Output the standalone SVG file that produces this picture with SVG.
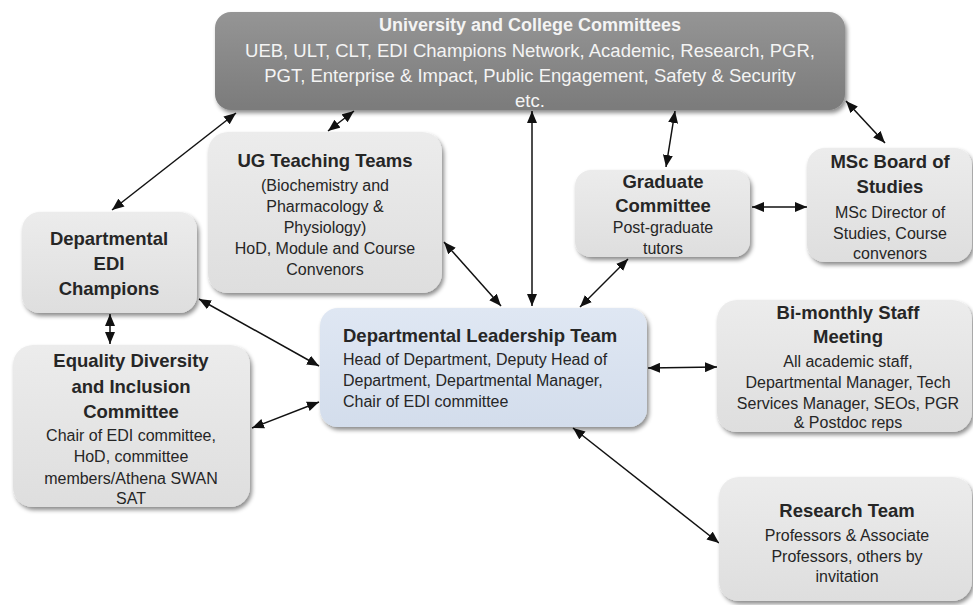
<svg xmlns="http://www.w3.org/2000/svg" width="973" height="605" viewBox="0 0 973 605">
  <defs>
    <linearGradient id="gGray" x1="0" y1="0" x2="0" y2="1">
      <stop offset="0" stop-color="#ececec"/>
      <stop offset="1" stop-color="#dedede"/>
    </linearGradient>
    <linearGradient id="gBlue" x1="0" y1="0" x2="0" y2="1">
      <stop offset="0" stop-color="#dfe7f3"/>
      <stop offset="1" stop-color="#d3ddec"/>
    </linearGradient>
    <linearGradient id="gDark" x1="0" y1="0" x2="0" y2="1">
      <stop offset="0" stop-color="#959595"/>
      <stop offset="1" stop-color="#7b7b7b"/>
    </linearGradient>
    <filter id="shadow" x="-10%" y="-10%" width="125%" height="130%">
      <feDropShadow dx="2" dy="3" stdDeviation="2.2" flood-color="#000" flood-opacity="0.45"/>
    </filter>
    <marker id="head" viewBox="0 0 12 10" refX="12" refY="5" markerUnits="userSpaceOnUse" markerWidth="12" markerHeight="10" orient="auto-start-reverse">
      <path d="M0,0 L12,5 L0,10 z" fill="#111"/>
    </marker>
  </defs>
  <style>
    .box { fill: url(#gGray); filter: url(#shadow); }
    .lead { fill: url(#gBlue); filter: url(#shadow); }
    .top { fill: url(#gDark); filter: url(#shadow); }
    text { font-family: "Liberation Sans", Arial, sans-serif; fill: #262626; text-anchor: middle; }
    .h { font-weight: bold; font-size: 18.5px; }
    .b { font-size: 16px; }
    .w { fill: #f4f4f4; font-size: 18.5px; }
    .wh { fill: #f4f4f4; font-weight: bold; font-size: 18px; }
    .l { text-anchor: start; }
    #connectors line { stroke: #111; stroke-width: 1.5; marker-start: url(#head); marker-end: url(#head); }
  </style>

  <rect width="973" height="605" fill="#ffffff"/>

  <!-- connectors: every link is two-way -->
  <g id="connectors">
    <line x1="236" y1="113" x2="112" y2="210"/>
    <line x1="354" y1="111" x2="328" y2="131"/>
    <line x1="532" y1="111" x2="532" y2="306"/>
    <line x1="675" y1="111" x2="666" y2="167"/>
    <line x1="846" y1="101" x2="885" y2="143"/>
    <line x1="444" y1="242" x2="501" y2="306"/>
    <line x1="628" y1="259" x2="580" y2="307"/>
    <line x1="199" y1="299" x2="319" y2="366"/>
    <line x1="110" y1="314" x2="110" y2="344"/>
    <line x1="252" y1="428" x2="319" y2="402"/>
    <line x1="648" y1="368" x2="717" y2="367"/>
    <line x1="573" y1="428" x2="719" y2="543"/>
    <line x1="752" y1="207" x2="807" y2="207"/>
  </g>

  <g id="university-committees">
    <rect class="top" x="215" y="12" width="630" height="98" rx="16"/>
    <text class="wh" x="530" y="31">University and College Committees</text>
    <text class="w" x="530" y="57">UEB, ULT, CLT, EDI Champions Network, Academic, Research, PGR,</text>
    <text class="w" x="530" y="82">PGT, Enterprise &amp; Impact, Public Engagement, Safety &amp; Security</text>
    <text class="w" x="530" y="107">etc.</text>
  </g>

  <g id="ug-teaching">
    <rect class="box" x="208" y="132" width="234" height="161" rx="20"/>
    <text class="h" x="325" y="167">UG Teaching Teams</text>
    <text class="b" x="325" y="191">(Biochemistry and</text>
    <text class="b" x="325" y="212">Pharmacology &amp;</text>
    <text class="b" x="325" y="233">Physiology)</text>
    <text class="b" x="325" y="254">HoD, Module and Course</text>
    <text class="b" x="325" y="275">Convenors</text>
  </g>

  <g id="graduate-committee">
    <rect class="box" x="575" y="170" width="175" height="87" rx="16"/>
    <text class="h" x="663" y="188">Graduate</text>
    <text class="h" x="663" y="212">Committee</text>
    <text class="b" x="663" y="233">Post-graduate</text>
    <text class="b" x="663" y="254">tutors</text>
  </g>

  <g id="msc-board">
    <rect class="box" x="807" y="148" width="165" height="114" rx="18"/>
    <text class="h" x="890" y="168">MSc Board of</text>
    <text class="h" x="890" y="193">Studies</text>
    <text class="b" x="890" y="218">MSc Director of</text>
    <text class="b" x="890" y="239">Studies, Course</text>
    <text class="b" x="890" y="259">convenors</text>
  </g>

  <g id="edi-champions">
    <rect class="box" x="22" y="212" width="175" height="101" rx="18"/>
    <text class="h" x="109" y="245">Departmental</text>
    <text class="h" x="109" y="270">EDI</text>
    <text class="h" x="109" y="295">Champions</text>
  </g>

  <g id="leadership-team">
    <rect class="lead" x="320" y="308" width="327" height="119" rx="18"/>
    <text class="h l" x="343" y="342">Departmental Leadership Team</text>
    <text class="b l" x="343" y="365">Head of Department, Deputy Head of</text>
    <text class="b l" x="343" y="386">Department, Departmental Manager,</text>
    <text class="b l" x="343" y="407">Chair of EDI committee</text>
  </g>

  <g id="staff-meeting">
    <rect class="box" x="717" y="300" width="255" height="132" rx="20"/>
    <text class="h" x="848" y="319">Bi-monthly Staff</text>
    <text class="h" x="848" y="343">Meeting</text>
    <text class="b" x="848" y="367">All academic staff,</text>
    <text class="b" x="848" y="388">Departmental Manager, Tech</text>
    <text class="b" x="848" y="409">Services Manager, SEOs, PGR</text>
    <text class="b" x="848" y="428">&amp; Postdoc reps</text>
  </g>

  <g id="edi-committee">
    <rect class="box" x="13" y="345" width="237" height="162" rx="20"/>
    <text class="h" x="131" y="367">Equality Diversity</text>
    <text class="h" x="131" y="393">and Inclusion</text>
    <text class="h" x="131" y="418">Committee</text>
    <text class="b" x="131" y="441">Chair of EDI committee,</text>
    <text class="b" x="131" y="462">HoD, committee</text>
    <text class="b" x="131" y="484">members/Athena SWAN</text>
    <text class="b" x="131" y="504">SAT</text>
  </g>

  <g id="research-team">
    <rect class="box" x="719" y="477" width="253" height="124" rx="20"/>
    <text class="h" x="847" y="517">Research Team</text>
    <text class="b" x="847" y="541">Professors &amp; Associate</text>
    <text class="b" x="847" y="562">Professors, others by</text>
    <text class="b" x="847" y="582">invitation</text>
  </g>
</svg>
